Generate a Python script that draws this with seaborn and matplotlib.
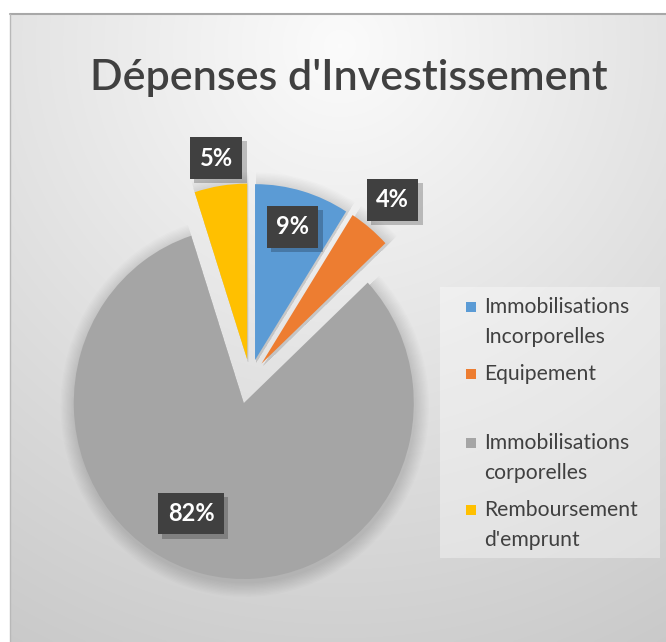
import numpy as np
import matplotlib
matplotlib.use("Agg")
import matplotlib.pyplot as plt
import matplotlib.patches as mpatches
import matplotlib.patheffects as pe
import seaborn as sns

sns.set_theme(style="white")
plt.rcParams['font.family'] = ['Lato', 'DejaVu Sans']

# ---- data ----
title = "Dépenses d'Investissement"
categories = ["Immobilisations\nIncorporelles", "Equipement",
              "Immobilisations\ncorporelles", "Remboursement\nd'emprunt"]
values = [9, 4, 82, 5]
pct_labels = ["9%", "4%", "82%", "5%"]
colors = ["#5B9BD5", "#ED7D31", "#A5A5A5", "#FFC000"]

W, H = 666, 642
fig = plt.figure(figsize=(W / 100, H / 100), dpi=100)
fig.patch.set_facecolor("white")

# ---- background panel with gradient (pixel coordinates, y up) ----
axbg = fig.add_axes([0, 0, 1, 1])
axbg.set_xlim(0, W)
axbg.set_ylim(0, H)
axbg.axis("off")
x0, y0top = 10, H - 14
xs = np.linspace(x0, W, 300)
ys = np.linspace(0, y0top, 300)
X, Y = np.meshgrid(xs, ys)
cx, cy = 340, H - 45
d = np.sqrt((X - cx) ** 2 + (Y - cy) ** 2)
v = np.clip(0.985 - 0.000285 * d, 0.76, 1.0)
img = np.dstack([v, v, v])
axbg.imshow(img, extent=(x0, W, 0, y0top), origin="lower", aspect="auto",
            interpolation="bilinear", zorder=0)
axbg.plot([x0, W], [y0top, y0top], color="#a8a8a8", lw=1.5, zorder=1)
axbg.plot([x0, x0], [0, y0top], color="#b8b8b8", lw=1.0, zorder=1)

# ---- title ----
axbg.text(349, H - 78, title, ha="center", va="center", fontsize=31,
          fontweight="semibold", color="#404040", zorder=6)

# ---- legend (manual, Excel-like) ----
axbg.add_patch(mpatches.Rectangle((440, H - 558), 220, 271, facecolor="white",
                                  alpha=0.35, lw=0, zorder=4))
entry_y = [307, 374, 443, 510]
line_h = 30
for cat, col, yy in zip(categories, colors, entry_y):
    axbg.add_patch(mpatches.Rectangle((466, H - yy - 5), 10, 10, facecolor=col,
                                      lw=0, zorder=6))
    for i, line in enumerate(cat.split("\n")):
        axbg.text(484, H - yy - i * line_h, line, ha="left", va="center",
                  fontsize=15.2, color="#404040", zorder=6)

# ---- pie (slightly stretched vertically, as in the reference) ----
s = 1.035
ax = fig.add_axes([0, 0, 1, 1], facecolor="none")
center = (250, (H - 378) / s)
radius = 170
explode = [18, 18, 25, 18]
wedges, _ = ax.pie(values, colors=colors, startangle=90, counterclock=False,
                   explode=explode, center=center, radius=radius,
                   wedgeprops=dict(linewidth=0), frame=False)
ax.set_xlim(0, W)
ax.set_ylim(0, H / s)
ax.set_aspect("auto")
ax.axis("off")

# soft shadow behind wedges
for w in wedges:
    for k in range(1, 12):
        sh = mpatches.Wedge((w.center[0] + 1, w.center[1] - 3), w.r + k * 1.3,
                            w.theta1, w.theta2, facecolor="black",
                            alpha=0.013, lw=0, zorder=w.get_zorder() - 0.5)
        ax.add_patch(sh)

# ---- data labels ----
label_dist = [0.79, 1.21, 0.70, 1.16]
label_ang_off = [0, 0, -11.9, 0]
for w, lab, dist, aoff in zip(wedges, pct_labels, label_dist, label_ang_off):
    th = np.deg2rad((w.theta1 + w.theta2) / 2 + aoff)
    px = w.center[0] + dist * w.r * np.cos(th)
    py = w.center[1] + dist * w.r * np.sin(th)
    t = ax.text(px, py, lab, ha="center", va="center", fontsize=17,
                fontweight="bold", color="white", zorder=6,
                bbox=dict(boxstyle="square,pad=0.4", fc="#404040", ec="none"))
    t.get_bbox_patch().set_path_effects(
        [pe.SimplePatchShadow(offset=(3, -3), shadow_rgbFace="black", alpha=0.22),
         pe.Normal()])

fig.savefig("out.png", dpi=100)
